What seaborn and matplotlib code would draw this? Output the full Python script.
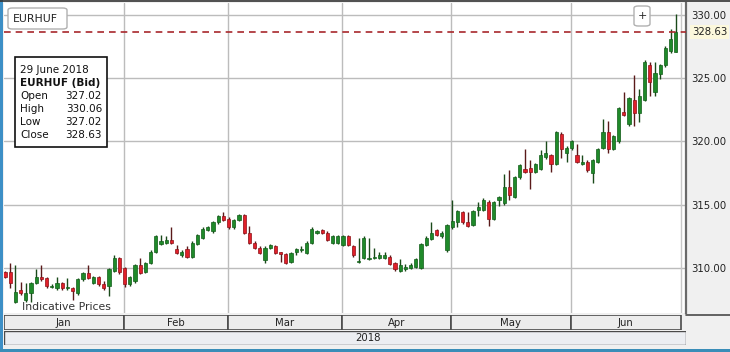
import numpy as np
import pandas as pd
import matplotlib
matplotlib.use("Agg")
import matplotlib.pyplot as plt
import seaborn as sns
from matplotlib.patches import Rectangle, FancyBboxPatch
from matplotlib.lines import Line2D

# ---------------- data ----------------
months = ["Jan", "Feb", "Mar", "Apr", "May", "Jun"]
year_label = "2018"
y_ticks = [310, 315, 320, 325, 330]
last_close = 328.63

opens = [309.7, 309.7, 307.3, 308.3, 307.5, 308.0, 308.8, 309.3, 309.2, 308.5,
         308.4, 308.8, 308.4, 308.4, 308.0, 309.1, 309.6, 308.8, 309.3, 308.7,
         308.6, 309.8, 310.8, 310.0, 308.7, 309.0, 310.2, 309.7, 310.4, 311.3,
         311.9, 312.0, 312.2, 311.5, 311.0, 311.5, 310.9, 311.9, 312.4, 313.0,
         312.9, 313.6, 314.1, 313.9, 313.2, 313.8, 314.2, 312.8, 312.0, 311.6,
         310.6, 311.6, 311.7, 311.3, 311.1, 310.5, 311.3, 311.4, 311.2, 312.0,
         312.8, 313.0, 312.8, 312.0, 312.0, 311.8, 312.5, 311.7, 310.5, 310.8,
         310.7, 310.8, 310.8, 310.8, 310.9, 310.4, 309.8, 309.9, 310.0, 310.1,
         310.0, 311.8, 312.3, 313.0, 312.5, 311.4, 313.2, 313.6, 314.4, 313.6,
         313.4, 314.6, 314.6, 315.2, 313.9, 315.4, 315.1, 316.4, 315.6, 317.2,
         317.8, 317.9, 317.6, 317.8, 318.8, 318.9, 318.2, 320.6, 319.1, 319.5,
         318.9, 318.2, 318.4, 317.5, 318.4, 319.5, 320.7, 319.4, 320.0, 322.3,
         321.4, 323.3, 322.2, 323.3, 326.0, 323.9, 325.3, 326.0, 327.1, 327.02]
closes = [309.3, 308.8, 308.1, 308.0, 308.0, 308.8, 309.3, 309.1, 308.6, 308.55,
          308.8, 308.4, 308.45, 308.2, 309.1, 309.6, 309.2, 309.3, 308.7, 308.4,
          309.9, 310.8, 309.7, 308.7, 309.3, 310.2, 309.6, 310.4, 311.3, 312.5,
          312.1, 312.2, 312.0, 311.2, 311.3, 310.9, 312.0, 312.6, 313.1, 313.2,
          313.6, 314.1, 313.8, 313.2, 313.8, 314.2, 312.8, 312.0, 311.6, 311.2,
          311.6, 311.8, 311.2, 311.1, 310.4, 311.2, 311.5, 311.5, 312.0, 313.1,
          312.9, 312.8, 312.2, 312.5, 312.5, 312.5, 311.8, 311.0, 310.55, 312.4,
          310.8, 310.9, 311.0, 311.0, 310.3, 309.9, 310.2, 310.1, 310.2, 310.7,
          311.9, 312.4, 312.8, 312.6, 312.8, 313.4, 313.7, 314.5, 313.6, 313.3,
          314.5, 314.8, 315.4, 313.9, 315.2, 315.6, 316.4, 315.8, 317.2, 318.1,
          317.6, 317.6, 318.2, 318.9, 319.1, 318.2, 320.7, 319.4, 319.5, 320.0,
          318.4, 318.4, 317.7, 318.5, 319.4, 320.7, 319.4, 320.4, 322.6, 322.1,
          323.4, 322.2, 323.6, 326.3, 324.7, 325.4, 326.0, 327.4, 328.1, 328.63]
highs = [309.8, 310.4, 310.2, 308.9, 308.8, 308.9, 309.9, 310.2, 309.3, 308.7,
         309.3, 308.9, 309.2, 308.5, 309.2, 309.7, 310.2, 309.4, 309.4, 309.0,
         310.0, 311.0, 310.9, 310.1, 309.4, 310.3, 310.8, 310.5, 311.4, 312.6,
         312.6, 312.5, 313.2, 311.8, 311.4, 311.7, 312.1, 312.7, 313.2, 313.3,
         313.7, 314.2, 314.4, 314.0, 313.9, 314.3, 314.3, 313.3, 312.1, 311.7,
         311.7, 311.9, 311.8, 311.3, 311.2, 311.3, 311.6, 311.7, 312.1, 313.2,
         313.0, 313.1, 312.9, 312.6, 312.6, 312.6, 312.6, 311.8, 312.4, 312.5,
         312.4, 311.6, 311.3, 311.3, 311.0, 310.5, 310.7, 310.3, 310.4, 310.8,
         312.0, 312.5, 313.6, 313.1, 312.9, 313.5, 315.4, 314.6, 314.5, 314.4,
         314.6, 315.2, 315.5, 315.4, 315.3, 315.7, 317.4, 317.7, 317.3, 318.2,
         319.4, 318.5, 318.3, 319.3, 320.0, 319.0, 320.8, 320.7, 319.6, 320.1,
         319.8, 318.9, 318.5, 318.6, 319.5, 321.8, 321.6, 320.5, 322.7, 323.9,
         323.5, 325.2, 324.1, 326.4, 326.3, 326.3, 326.1, 327.5, 328.9, 330.06]
lows = [309.2, 308.4, 307.2, 307.9, 307.3, 307.3, 308.7, 309.0, 308.4, 308.4,
        308.3, 308.3, 308.3, 307.5, 307.9, 309.0, 309.1, 308.7, 308.6, 308.3,
        307.8, 309.7, 309.5, 308.5, 308.6, 308.8, 309.5, 309.6, 310.3, 311.2,
        311.8, 311.9, 311.9, 311.1, 310.9, 310.8, 310.8, 311.8, 312.3, 312.9,
        312.8, 313.5, 313.7, 313.1, 313.1, 313.7, 312.7, 311.9, 311.5, 311.1,
        310.4, 311.5, 311.1, 310.5, 310.3, 310.4, 311.0, 311.3, 311.1, 311.9,
        312.7, 312.7, 312.1, 311.9, 311.9, 311.7, 311.7, 310.9, 310.4, 310.7,
        310.6, 310.7, 310.7, 310.7, 310.2, 309.8, 309.7, 309.8, 309.9, 310.0,
        309.9, 311.7, 312.2, 312.5, 312.4, 311.3, 313.1, 313.2, 313.5, 313.2,
        313.3, 314.1, 314.5, 313.3, 313.8, 314.9, 315.0, 315.4, 315.5, 317.0,
        317.5, 316.2, 317.5, 317.7, 318.6, 317.6, 318.1, 318.7, 318.4, 319.3,
        318.3, 318.1, 317.6, 316.7, 318.3, 319.4, 319.1, 319.3, 319.9, 322.0,
        321.2, 321.2, 321.5, 323.2, 323.6, 323.6, 324.9, 325.9, 327.0, 327.02]

# ---------------- build frame ----------------
dates = pd.bdate_range("2018-01-01", "2018-06-29")
df = pd.DataFrame({"date": dates, "open": opens, "high": highs,
                   "low": lows, "close": closes})
df["idx"] = np.arange(len(df))
df["up"] = df["close"] >= df["open"]
df["body_lo"] = df[["open", "close"]].min(axis=1)
df["body_h"] = (df["close"] - df["open"]).abs().clip(lower=0.07)

sns.set_style("white")
plt.rcParams["font.family"] = ["DejaVu Sans"]

W, H = 730, 352
fig = plt.figure(figsize=(W / 100, H / 100), dpi=100)
fig.patch.set_facecolor("#f0f0f0")

def fx(px):
    return px / W

def fy(py):
    return 1 - py / H

XL = (-0.19, 130.96)
YL = (306.45, 330.92)

ax = fig.add_axes([fx(4), fy(313), fx(686) - fx(4), fy(3) - fy(313)])
ax.set_facecolor("white")
ax.set_xlim(*XL)
ax.set_ylim(*YL)

# month starts
month_first = df.groupby(df["date"].dt.month)["idx"].min().values
bounds = [b - 0.2 for b in month_first[1:]]

# grid
for yv in y_ticks:
    ax.axhline(yv, color="#bcbcbc", lw=1.0, zorder=0)
for b in bounds:
    ax.axvline(b, color="#bcbcbc", lw=1.0, zorder=0)
ax.axvline(130.0, color="#c8c8c8", lw=1.0, zorder=0)

green, green_edge = "#1f8a2a", "#115c18"
red, red_edge = "#e0202a", "#8c1016"
wick_c = np.where(df["up"], "#1a4a1a", "#5a1a1a")
ax.vlines(df["idx"], df["low"], df["high"], colors=wick_c, lw=1.0, zorder=2)
ax.bar(df["idx"], df["body_h"], bottom=df["body_lo"], width=0.64,
       color=np.where(df["up"], green, red),
       edgecolor=np.where(df["up"], green_edge, red_edge), linewidth=0.5, zorder=3)

ax.axhline(last_close, color="#a8282c", lw=1.2, ls=(0, (4, 3)), zorder=4)

# axis styling
for s in ["top", "left", "bottom"]:
    ax.spines[s].set_visible(False)
ax.spines["right"].set_color("#6a6a6a")
ax.spines["right"].set_linewidth(1.6)
ax.set_xticks([])
ax.yaxis.tick_right()
ax.set_yticks(y_ticks)
ax.set_yticklabels([f"{v:.2f}" for v in y_ticks])
ax.tick_params(axis="y", length=0, pad=4, labelsize=7.3, colors="#222222")
ax.text(1.0 + 6 / 682, last_close, f"{last_close:.2f}", transform=ax.get_yaxis_transform(),
        ha="left", va="center", fontsize=7.3, color="#222222",
        bbox=dict(boxstyle="square,pad=0.15", fc="#fcf8dc", ec="none"),
        zorder=5, clip_on=False)

# ---------------- month bar ----------------
mb = fig.add_axes([fx(4), fy(330), fx(686) - fx(4), fy(315) - fy(330)])
mb.set_xlim(*XL)
mb.set_ylim(0, 1)
mb.axis("off")
edges = [-0.19] + bounds + [130.0]
for i, m in enumerate(months):
    mb.add_patch(Rectangle((edges[i], 0), edges[i + 1] - edges[i], 1,
                           fc="#ececec", ec="#4a4a4a", lw=1.2))
    mb.text((edges[i] + edges[i + 1]) / 2, 0.45, m, ha="center", va="center",
            fontsize=7.3, color="#222222")

# ---------------- year bar ----------------
yb = fig.add_axes([fx(4), fy(345), fx(686) - fx(4), fy(331) - fy(345)])
yb.set_xlim(0, 1)
yb.set_ylim(0, 1)
yb.axis("off")
yb.add_patch(Rectangle((0, 0), 1, 1, fc="#eceef2", ec="#4a4a4a", lw=1.0))
fig.text(fx(368), fy(338), year_label, ha="center", va="center",
         fontsize=7.3, color="#222222")

# ---------------- overlays ----------------
fig.add_artist(FancyBboxPatch((fx(8), fy(29)), fx(67) - fx(8), fy(8) - fy(29),
                              boxstyle="round,pad=0,rounding_size=0.006",
                              fc="white", ec="#b0b0b0", lw=1, transform=fig.transFigure))
fig.text(fx(13), fy(18.5), "EURHUF", ha="left", va="center", fontsize=7.8, color="#222222")

fig.add_artist(FancyBboxPatch((fx(634), fy(26)), fx(650) - fx(634), fy(6) - fy(26),
                              boxstyle="round,pad=0,rounding_size=0.006",
                              fc="white", ec="#b0b0b0", lw=1, transform=fig.transFigure))
fig.text(fx(642), fy(16), "+", ha="center", va="center", fontsize=8, color="#222222")

fig.add_artist(Rectangle((fx(15), fy(147)), fx(107) - fx(15), fy(57) - fy(147),
                         fc="white", ec="#111111", lw=1.2, transform=fig.transFigure))
info_labels = ["Open", "High", "Low", "Close"]
info_vals = [opens[-1], highs[-1], lows[-1], closes[-1]]
fig.text(fx(20), fy(70), "29 June 2018", ha="left", va="center", fontsize=7.5, color="#111111")
fig.text(fx(20), fy(83), "EURHUF (Bid)", ha="left", va="center", fontsize=7.5,
         fontweight="bold", color="#111111")
for k, (lab, val) in enumerate(zip(info_labels, info_vals)):
    yy = 96 + 13 * k
    fig.text(fx(20), fy(yy), lab, ha="left", va="center", fontsize=7.5, color="#111111")
    fig.text(fx(102), fy(yy), f"{val:.2f}", ha="right", va="center", fontsize=7.5, color="#111111")

fig.text(fx(22), fy(307), "Indicative Prices", ha="left", va="center", fontsize=7.8, color="#333333")

# frame lines
fig.add_artist(Rectangle((0, 0), fx(2.5), 1, fc="#3d8fc6", ec="none", transform=fig.transFigure))
fig.add_artist(Rectangle((0, 0), 1, fy(348.5), fc="#3a8db8", ec="none", transform=fig.transFigure))
fig.add_artist(Line2D([0, 1], [fy(0.8), fy(0.8)], color="#333333", lw=1.2, transform=fig.transFigure))
fig.add_artist(Line2D([fx(686), 1], [fy(315), fy(315)], color="#4a4a4a", lw=1.2, transform=fig.transFigure))

fig.savefig("out.png", dpi=100, facecolor=fig.get_facecolor())
